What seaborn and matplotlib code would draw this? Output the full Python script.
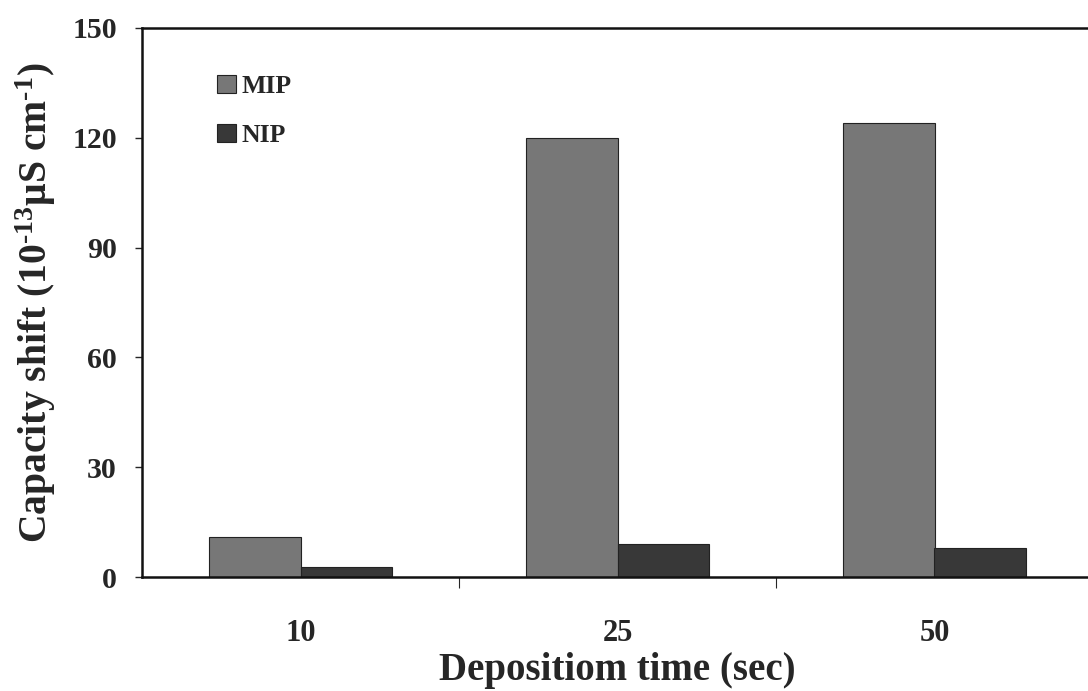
import matplotlib
matplotlib.use("Agg")
import matplotlib.pyplot as plt
import seaborn as sns
import pandas as pd
import numpy as np

categories = ["10", "25", "50"]
mip_values = [11, 120, 124]
nip_values = [2.7, 9, 8]
series_names = ["MIP", "NIP"]
y_ticks = [0, 30, 60, 90, 120, 150]

df = pd.DataFrame({
    "time": categories * 2,
    "value": mip_values + nip_values,
    "series": [series_names[0]] * 3 + [series_names[1]] * 3,
})

sns.set_theme(style="white")
plt.rcParams['font.family'] = ['Liberation Serif', 'DejaVu Serif']
plt.rcParams['mathtext.fontset'] = 'custom'
plt.rcParams['mathtext.rm'] = 'Liberation Serif:bold'
plt.rcParams['mathtext.it'] = 'Liberation Serif:bold'
plt.rcParams['mathtext.bf'] = 'Liberation Serif:bold'

fig = plt.figure(figsize=(10.88, 6.91), dpi=100)
ax = fig.add_axes([142 / 1088, 114 / 691, (1093 - 142) / 1088, (577 - 28) / 691])

palette = {"MIP": "#777777", "NIP": "#383838"}
sns.barplot(data=df, x="time", y="value", hue="series", palette=palette,
            width=0.575, edgecolor="#222222", linewidth=0.8, saturation=1,
            ax=ax)

ax.set_ylim(0, 150)
ax.set_xlim(-0.5, 2.5)
ax.set_yticks(y_ticks)
ax.set_yticklabels([str(t) for t in y_ticks], fontsize=21.5, fontweight="bold")
ax.set_xticks([0, 1, 2])
ax.set_xticklabels(categories, fontsize=22, fontweight="bold")
ax.tick_params(axis="x", length=0, pad=30)
ax.tick_params(axis="y", direction="out", length=5, width=1.0, left=True, pad=13)
# category boundary ticks
ax.set_xticks([0.5, 1.5], minor=True)
ax.tick_params(axis="x", which="minor", direction="out", length=8, width=0.8, bottom=True)

ax.set_xlabel("Depositiom time (sec)", fontsize=28, fontweight="bold", labelpad=3)
ax.set_ylabel(r"Capacity shift (10$^{\text{-13}}$$\mu$S cm$^{\text{-1}}$)", fontsize=28.5,
              fontweight="bold", labelpad=10)

for side in ["left", "top", "bottom"]:
    ax.spines[side].set_visible(True)
    ax.spines[side].set_color("#111111")
    ax.spines[side].set_linewidth(1.8)
ax.spines["right"].set_visible(False)

leg = ax.legend(loc="upper left", bbox_to_anchor=(0.055, 0.957), frameon=False,
                prop={"family": "Liberation Serif", "weight": "bold", "size": 18.5},
                handlelength=0.74, handleheight=0.74, handletextpad=0.2,
                labelspacing=1.0)

fig.savefig("out.png", dpi=100, facecolor="white")
